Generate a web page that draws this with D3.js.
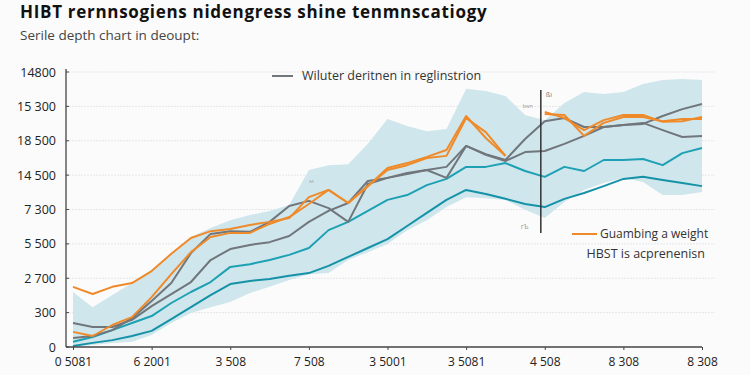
<!DOCTYPE html>
<html><head><meta charset="utf-8">
<script src="https://cdn.jsdelivr.net/npm/d3@7"></script>
<style>body{margin:0;background:#fbfbfb}svg{display:block}</style>
</head><body><svg id="c" width="750" height="375"></svg>
<script>
// ---- data ----
const xPos = [0,0.25,0.5,0.75,1,1.25,1.5,1.75,2,2.25,2.5,2.75,3,3.25,3.5,3.75,4,4.25,4.5,4.75,5,5.25,5.5,5.75,6,6.25,6.5,6.75,7,7.25,7.5,7.75,8];
const xTickLabels = ["0 5081","6 2001","3 508","7 508","3 5001","3 5081","4 508","8 308","8 308"];
const yTickLabels = ["0","300","2 700","5 500","7 300","14 500","18 500","15 300","14800"];
const orangeA = [1.75,1.54,1.75,1.86,2.21,2.71,3.17,3.37,3.43,3.55,3.64,3.75,4.36,4.57,4.19,4.68,5.21,5.35,5.53,5.73,6.72,6.08,5.56,null,6.84,6.66,6.31,6.60,6.75,6.75,6.55,6.57,6.69];
const orangeB = [0.44,0.32,0.64,0.87,1.45,2.12,2.76,3.20,3.32,3.32,3.58,3.78,4.16,4.57,4.19,4.68,5.15,5.29,5.50,5.56,6.66,6.25,5.56,null,6.78,6.75,6.14,6.52,6.69,6.69,6.57,6.63,6.63];
const grayA = [0.70,0.58,0.58,0.79,1.19,1.54,1.89,2.53,2.85,2.97,3.05,3.23,3.64,3.96,4.19,4.83,4.92,5.03,5.15,5.24,5.85,5.59,5.41,5.67,5.70,5.91,6.14,6.40,6.46,6.49,6.72,6.92,7.07];
const grayB = [0.26,0.32,0.49,0.84,1.34,1.86,2.73,3.29,3.37,3.35,3.64,4.10,4.25,4.04,3.64,4.74,4.92,5.06,5.15,4.92,5.85,5.61,5.44,6.05,6.57,6.66,6.40,6.40,6.46,6.52,6.31,6.11,6.14];
const tealUpper = [0.15,0.29,0.49,0.70,0.90,1.28,1.60,1.89,2.33,2.41,2.53,2.68,2.88,3.40,3.64,3.96,4.28,4.42,4.71,4.89,5.24,5.24,5.35,5.12,4.95,5.24,5.12,5.44,5.44,5.47,5.29,5.64,5.79];
const tealLower = [0.03,0.12,0.20,0.32,0.47,0.81,1.16,1.51,1.83,1.92,1.98,2.07,2.15,2.36,2.62,2.88,3.14,3.52,3.90,4.28,4.57,4.45,4.31,4.16,4.07,4.31,4.48,4.68,4.89,4.95,4.86,4.77,4.68];
const bandTop = [1.60,1.16,1.51,1.86,2.24,2.71,3.20,3.46,3.69,3.84,3.96,4.13,5.15,5.29,5.32,5.91,6.63,6.43,6.28,6.34,7.51,7.45,7.30,6.75,6.60,7.10,7.42,7.36,7.42,7.65,7.77,7.80,7.77];
const bandBottom = [0,0.06,0.12,0.15,0.35,0.70,0.99,1.16,1.31,1.57,1.75,1.95,2.12,2.15,2.53,2.76,3.00,3.40,3.69,4.07,4.36,4.33,4.28,3.99,3.75,4.22,4.57,4.77,4.92,4.80,4.42,4.42,4.51];
const markerX = [5.95];
const markerRange = [3.32, 7.48];

// ---- chart ----
const W = 750, H = 375;
const svg = d3.select("#c");
svg.append("rect").attr("width", W).attr("height", H).attr("fill", "#fbfbfb");
const FONT = "'Open Sans', 'Noto Sans', sans-serif";

const x = d3.scaleLinear().domain([0, 8]).range([73, 702]);
const y = d3.scaleLinear().domain([0, 8]).range([347, 72]);
const axisX0 = 66;

// title
svg.append("text").attr("x", 20).attr("y", 18).attr("font-family", FONT).attr("font-weight", 700)
  .attr("font-size", 17).attr("letter-spacing", 0.7).attr("fill", "#111").text("HIBT rernnsogiens nidengress shine tenmnscatiogy");
svg.append("text").attr("x", 20).attr("y", 40).attr("font-family", FONT)
  .attr("font-size", 13.5).attr("fill", "#444").text("Serile depth chart in deoupt:");

// grid
const ticksY = yTickLabels.map((d, i) => i);
svg.append("g").selectAll("line").data(ticksY.slice(1)).join("line")
  .attr("x1", axisX0).attr("x2", 715).attr("y1", d => y(d)).attr("y2", d => y(d))
  .attr("stroke", "#e4e6e8").attr("stroke-width", 1).attr("stroke-dasharray", "2,1");

// band
const idx = xPos.map((d, i) => i);
const area = d3.area().x(i => x(xPos[i])).y0(i => y(bandBottom[i])).y1(i => y(bandTop[i]));
svg.append("path").datum(idx).attr("d", area).attr("fill", "#cae4ea").attr("opacity", 0.9);

// lines
const series = [
  {v: tealLower, c: "#1592a7"},
  {v: tealUpper, c: "#1ea0b4"},
  {v: grayB, c: "#70767b"},
  {v: grayA, c: "#70767b"},
  {v: orangeB, c: "#ef8a2a"},
  {v: orangeA, c: "#ef8a2a"}
];
series.forEach(s => {
  const line = d3.line().defined(i => s.v[i] != null).x(i => x(xPos[i])).y(i => y(s.v[i]));
  svg.append("path").datum(idx).attr("d", line).attr("fill", "none")
    .attr("stroke", s.c).attr("stroke-width", 2).attr("stroke-linejoin", "round");
});

// vertical marker
svg.append("line").attr("x1", x(markerX[0])).attr("x2", x(markerX[0]))
  .attr("y1", y(markerRange[1])).attr("y2", y(markerRange[0]))
  .attr("stroke", "#333").attr("stroke-width", 1.5);
svg.append("text").attr("x", x(markerX[0]) + 5).attr("y", y(markerRange[1]) + 7)
  .attr("font-family", FONT).attr("font-size", 7).attr("fill", "#777").text("ßı");
svg.append("text").attr("x", x(markerX[0]) - 18).attr("y", y(markerRange[1]) + 18)
  .attr("font-family", FONT).attr("font-size", 5).attr("fill", "#999").text("bwn");
svg.append("text").attr("x", x(markerX[0]) - 20).attr("y", y(markerRange[0]) - 4)
  .attr("font-family", FONT).attr("font-size", 7).attr("fill", "#999").text("rЪ");
svg.append("text").attr("x", x(xPos[12]) ).attr("y", y(4.7))
  .attr("font-family", FONT).attr("font-size", 6).attr("fill", "#999").text("ᴬᴬ");

// axes
const yAxis = d3.axisLeft(y).tickValues(ticksY).tickFormat(i => yTickLabels[i]).tickSize(0).tickPadding(10);
const gy = svg.append("g").attr("transform", `translate(${axisX0},0)`).call(yAxis);
gy.select(".domain").remove();
gy.selectAll("text").attr("font-family", FONT).attr("font-size", 12.5).attr("fill", "#222");
svg.append("g").selectAll("line").data(ticksY).join("line")
  .attr("x1", axisX0).attr("x2", axisX0 + 3).attr("y1", d => y(d)).attr("y2", d => y(d))
  .attr("stroke", "#444");
svg.append("line").attr("x1", axisX0).attr("x2", axisX0).attr("y1", y(0)).attr("y2", y(8) - 3)
  .attr("stroke", "#444").attr("stroke-width", 1.3);

const xAxis = d3.axisBottom(x).tickValues(xTickLabels.map((d, i) => i)).tickFormat(i => xTickLabels[i]).tickSize(3).tickPadding(7);
const gx = svg.append("g").attr("transform", `translate(0,${y(0)})`).call(xAxis);
gx.select(".domain").remove();
gx.selectAll(".tick line").attr("stroke", "#444");
gx.selectAll("text").attr("font-family", FONT).attr("font-size", 12).attr("fill", "#222");
svg.append("line").attr("x1", axisX0).attr("x2", x(8)).attr("y1", y(0)).attr("y2", y(0))
  .attr("stroke", "#444").attr("stroke-width", 1.3);

// legends
const lg1 = svg.append("g").attr("transform", "translate(272,76)");
lg1.append("line").attr("x1", 0).attr("x2", 21).attr("stroke", "#70767b").attr("stroke-width", 2);
lg1.append("text").attr("x", 30).attr("dy", "0.35em").attr("font-family", FONT).attr("font-size", 12.5)
  .attr("fill", "#333").text("Wiluter deritnen in reglinstrion");

const lg2 = svg.append("g").attr("transform", "translate(572,234)");
lg2.append("line").attr("x1", 0).attr("x2", 25).attr("stroke", "#ef8a2a").attr("stroke-width", 2);
lg2.append("text").attr("x", 28).attr("dy", "0.35em").attr("font-family", FONT).attr("font-size", 12)
  .attr("fill", "#333").text("Guambing a weight");
svg.append("text").attr("x", 705).attr("y", 254).attr("dy", "0.35em").attr("text-anchor", "end")
  .attr("font-family", FONT).attr("font-size", 12.5).attr("fill", "#333").text("HBST is acprenenisn");
</script></body></html>
